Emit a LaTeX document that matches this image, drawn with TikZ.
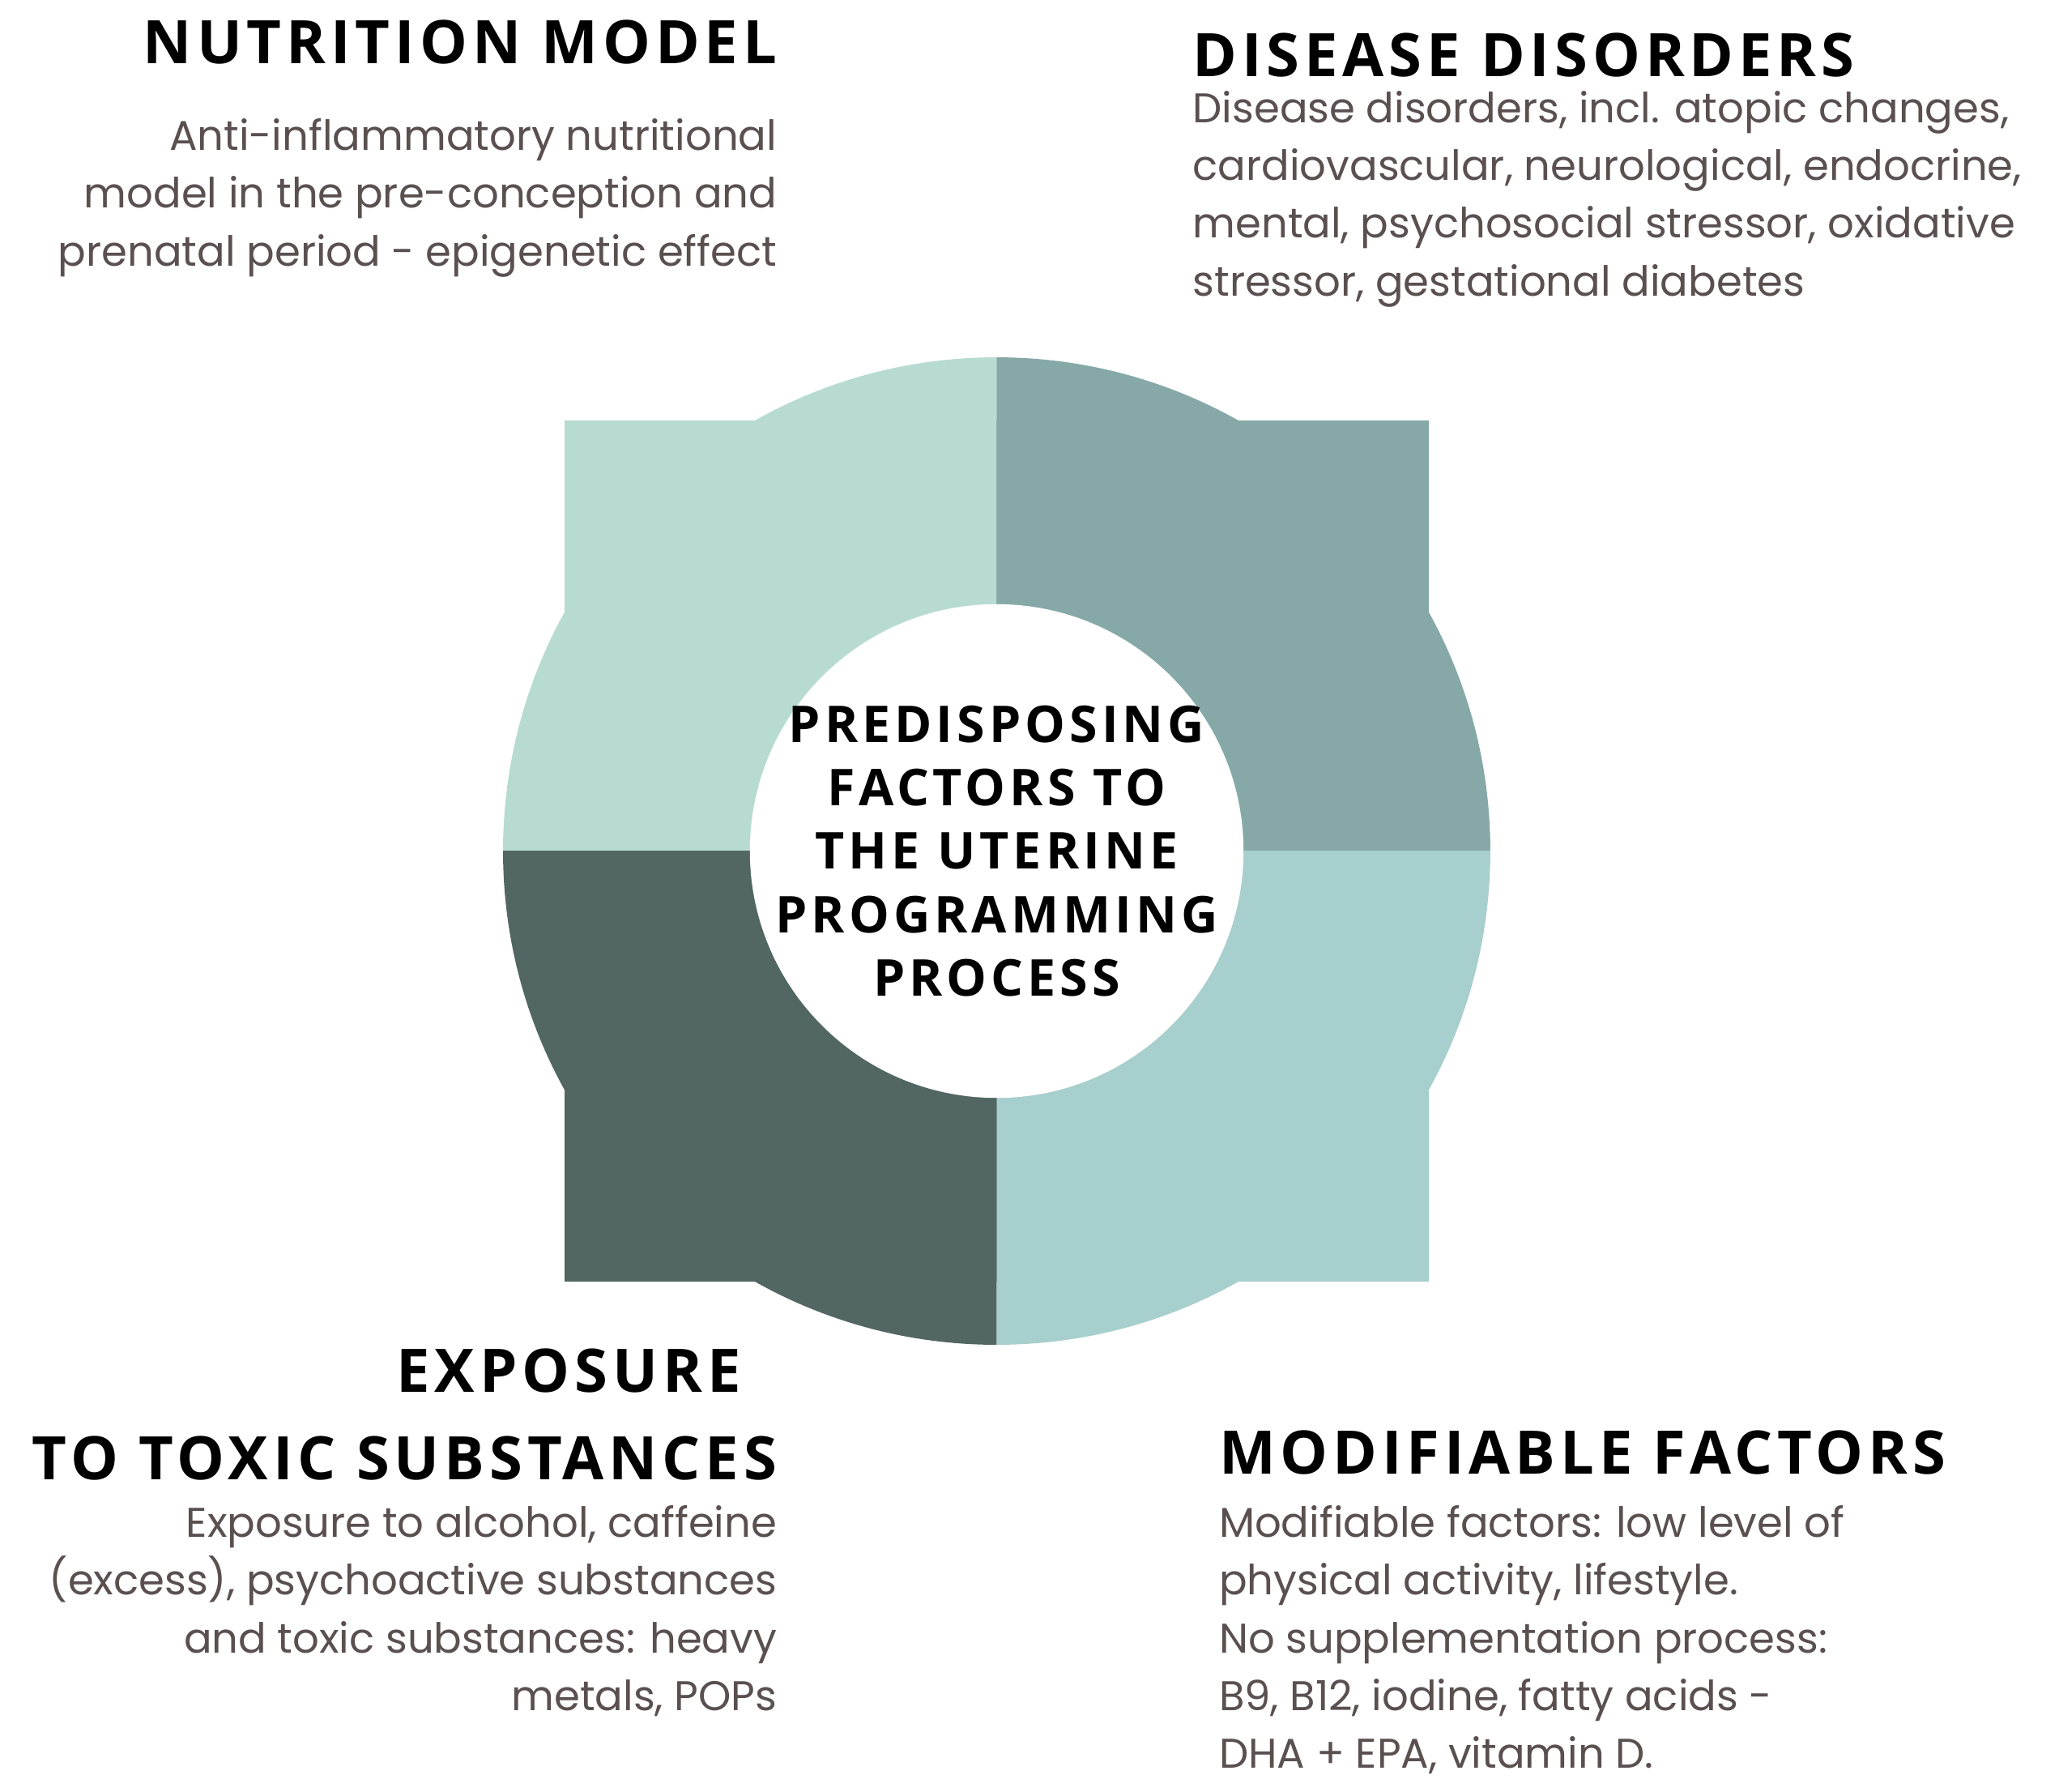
\documentclass[tikz,border=0pt]{standalone}
\usepackage{fontspec}
\setmainfont{Poppins}
\newfontfamily\titlefont[LetterSpace=8]{Open Sans Bold}
\definecolor{qtl}{HTML}{B7DBD0}
\definecolor{qtr}{HTML}{86A9A8}
\definecolor{qbr}{HTML}{A7CFCD}
\definecolor{qbl}{HTML}{526664}
\definecolor{txt}{HTML}{5A5050}
\tikzset{
 ttl/.style={font=\titlefont\fontsize{26}{38}\selectfont, text=black, inner sep=0pt},
 body/.style={font=\fontsize{18}{25}\selectfont, text=txt, inner sep=0pt},
 ctr/.style={font=\titlefont\fontsize{22}{27.5}\selectfont, align=center, inner sep=0pt}
}
\begin{document}
\begin{tikzpicture}[x=0.02cm,y=-0.02cm]
\useasboundingbox (0,0) rectangle (1568,1364);
\coordinate (c) at (759,648);
\foreach \col/\sx/\sy in {qtl/-1/-1, qtr/1/-1, qbr/1/1, qbl/-1/1}{
 \begin{scope}
 \clip (c) rectangle ++(\sx*400,\sy*400);
 \fill[\col] (c) circle[radius=7.52cm];
 \fill[\col] (430,320) rectangle (1088,976);
 \end{scope}
}
\node[circle,fill=white,minimum size=7.52cm,inner sep=0pt] (hub) at (c) {};
\node[ctr] (ctrtext) at (c) {PREDISPOSING\\FACTORS TO\\THE UTERINE\\PROGRAMMING\\PROCESS};
\node[ttl,anchor=east] (t1) at (592,32) {NUTRITION MODEL};
\node[body,anchor=north east,align=right] (b1) at (592,90) {Anti-inflammatory nutritional\\model in the pre-conception and\\prenatal period - epigenetic effect};
\node[ttl,anchor=west] (t2) at (908,42) {DISEASE DISORDERS};
\node[body,anchor=north west,align=left] (b2) at (908,69) {Disease disorders, incl. atopic changes,\\cardiovascular, neurological, endocrine,\\mental, psychosocial stressor, oxidative\\stressor, gestational diabetes};
\node[ttl,anchor=east,align=right] (t3) at (592,1077) {EXPOSURE\hspace*{0.55cm}\\TO TOXIC SUBSTANCES};
\node[body,anchor=north east,align=right] (b3) at (592,1146) {Exposure to alcohol, caffeine\\(excess), psychoactive substances\\and toxic substances: heavy\\metals, POPs};
\node[ttl,anchor=west] (t4) at (928,1106) {MODIFIABLE FACTORS};
\node[body,anchor=north west,align=left] (b4) at (928,1146) {Modifiable factors: low level of\\physical activity, lifestyle.\\No supplementation process:\\B9, B12, iodine, fatty acids -\\DHA + EPA, vitamin D.};
\end{tikzpicture}
\end{document}
